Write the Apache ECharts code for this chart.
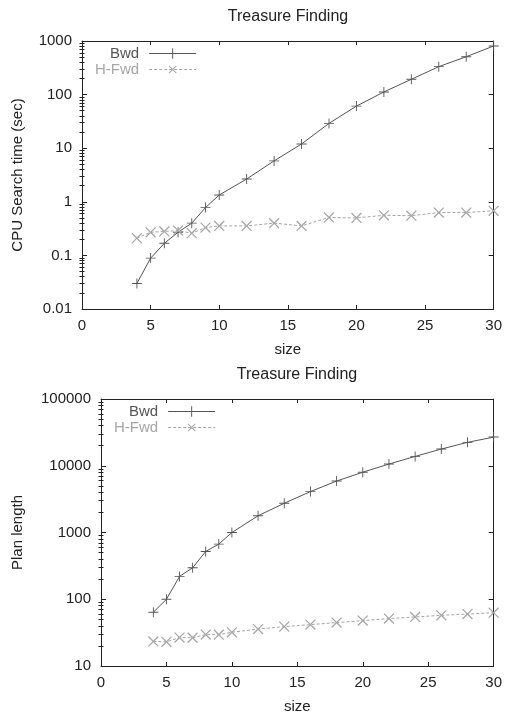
<!DOCTYPE html>
<html>
<head>
<meta charset="utf-8">
<script src="https://cdn.jsdelivr.net/npm/echarts@6/dist/echarts.min.js"></script>
<style>html,body{margin:0;padding:0;background:#fff;}#c{width:505px;height:715px;}</style>
</head>
<body>
<div id="c"></div>
<script>
// ---- data ----
const chartTitle = 'Treasure Finding';
const sizes = [4, 5, 6, 7, 8, 9, 10, 12, 14, 16, 18, 20, 22, 24, 26, 28, 30];
const cpuBwd = [0.03, 0.089, 0.168, 0.27, 0.40, 0.78, 1.34, 2.66, 5.8, 12, 29, 61, 112, 193, 332, 509, 807];
const cpuHFwd = [0.21, 0.27, 0.28, 0.29, 0.26, 0.33, 0.355, 0.355, 0.40, 0.355, 0.51, 0.50, 0.56, 0.55, 0.63, 0.63, 0.68];
const planBwd = [64, 100, 220, 296, 520, 670, 1000, 1780, 2740, 4100, 5900, 8000, 10600, 13800, 17800, 22400, 26900];
const planHFwd = [23.3, 23, 26.7, 26.5, 29.6, 29.5, 32, 35.8, 38.9, 41.7, 44.7, 47.9, 51.3, 54.3, 57.5, 60, 63];
const xTicks = [0, 5, 10, 15, 20, 25, 30];
const cpuRange = [0.01, 1000];
const planRange = [10, 100000];
const minorMultipliers = [2, 3, 4, 5, 6, 7, 8, 9];

// ---- style ----
const FONT = "'Liberation Sans', Arial, Helvetica, sans-serif";
const DARK = '#555555';
const LIGHT = '#a6a6a6';
const AXIS = '#222222';
const PLUS = 'path://M4.55,0H5.45V4.55H10V5.45H5.45V10H4.55V5.45H0V4.55H4.55Z';

function minorLogTicks(range) {
  const out = [];
  const lo = Math.round(Math.log10(range[0])), hi = Math.round(Math.log10(range[1]));
  for (let d = lo; d < hi; d++) minorMultipliers.forEach(m => out.push(d + Math.log10(m)));
  return out;
}
function pairs(xs, ys) { return xs.map((x, i) => [x, ys[i]]); }
function fmt(v) { return String(+(+v).toPrecision(6)); }

function xAxes(grid, name) {
  const base = {
    type: 'value', gridIndex: grid, min: xTicks[0], max: xTicks[xTicks.length - 1], interval: xTicks[1] - xTicks[0],
    splitLine: { show: false },
    axisLine: { show: true, onZero: false, lineStyle: { color: AXIS, width: 1 } },
    axisTick: { show: true, inside: true, length: 4, lineStyle: { color: AXIS } }
  };
  return [
    Object.assign({}, base, {
      position: 'bottom',
      axisLabel: { show: true, margin: 9, color: AXIS, fontSize: 15, fontFamily: FONT },
      name: name, nameLocation: 'middle', nameGap: 33,
      nameTextStyle: { color: AXIS, fontSize: 15, fontFamily: FONT }
    }),
    Object.assign({}, base, { position: 'top', axisLabel: { show: false } })
  ];
}
function yAxes(grid, range, name, nameGap) {
  const base = {
    type: 'log', logBase: 10, gridIndex: grid, min: range[0], max: range[1],
    splitLine: { show: false },
    axisLine: { show: true, onZero: false, lineStyle: { color: AXIS, width: 1 } },
    axisTick: { show: true, inside: true, length: 5, lineStyle: { color: AXIS } }
  };
  const lo = Math.log10(range[0]), hi = Math.log10(range[1]);
  const minorBase = {
    type: 'value', gridIndex: grid, min: lo, max: hi,
    splitLine: { show: false }, axisLine: { show: false }, axisLabel: { show: false },
    axisTick: { show: true, inside: true, length: 2.5, customValues: minorLogTicks(range), lineStyle: { color: AXIS } }
  };
  return [
    Object.assign({}, base, {
      position: 'left',
      axisLabel: { show: true, margin: 10, color: AXIS, fontSize: 15, fontFamily: FONT, formatter: fmt },
      name: name, nameLocation: 'middle', nameRotate: 90, nameGap: nameGap,
      nameTextStyle: { color: AXIS, fontSize: 15, fontFamily: FONT }
    }),
    Object.assign({}, base, { position: 'right', axisLabel: { show: false } }),
    Object.assign({}, minorBase, { position: 'left' }),
    Object.assign({}, minorBase, { position: 'right' })
  ];
}
function series(name, xi, yi, ys, light) {
  return {
    name: name, type: 'line', xAxisIndex: xi, yAxisIndex: yi,
    data: pairs(sizes, ys),
    symbol: PLUS, symbolSize: light ? 14 : 10, symbolRotate: light ? 45 : 0,
    showSymbol: true, animation: false,
    lineStyle: { color: light ? LIGHT : DARK, width: 1, type: light ? [3, 2] : 'solid' },
    itemStyle: { color: light ? LIGHT : DARK },
    emphasis: { disabled: true }
  };
}
function legend(left, top) {
  return {
    orient: 'vertical', align: 'right', left: left, top: top, padding: 0,
    itemGap: 1, itemWidth: 47, itemHeight: 13,
    lineStyle: { width: 1 },
    data: [
      { name: 'Bwd', textStyle: { color: DARK } },
      { name: 'H-Fwd', textStyle: { color: LIGHT } }
    ],
    formatter: n => '{t|' + n + '}',
    textStyle: { fontSize: 15, fontFamily: FONT, rich: { t: { width: 46, align: 'right', fontSize: 15, fontFamily: FONT, padding: [0, 5, 0, 0] } } },
    selectedMode: false
  };
}

const option = {
  backgroundColor: '#ffffff',
  animation: false,
  title: [
    { text: chartTitle, left: 288, top: 9, textAlign: 'center', padding: 0,
      textStyle: { color: AXIS, fontSize: 16, fontWeight: 'normal', fontFamily: FONT } },
    { text: chartTitle, left: 297, top: 367, textAlign: 'center', padding: 0,
      textStyle: { color: AXIS, fontSize: 16, fontWeight: 'normal', fontFamily: FONT } }
  ],
  legend: [legend(95, 46), legend(114, 404)],
  grid: [
    { left: 82, top: 41, width: 412, height: 268 },
    { left: 101, top: 399, width: 393, height: 268 }
  ],
  xAxis: [].concat(xAxes(0, 'size'), xAxes(1, 'size')),
  yAxis: [].concat(yAxes(0, cpuRange, 'CPU Search time (sec)', 57), yAxes(1, planRange, 'Plan length', 76)),
  series: [
    series('Bwd', 0, 0, cpuBwd, false),
    series('H-Fwd', 0, 0, cpuHFwd, true),
    series('Bwd', 2, 4, planBwd, false),
    series('H-Fwd', 2, 4, planHFwd, true)
  ]
};
const chart = echarts.init(document.getElementById('c'), null, { renderer: 'canvas' });
chart.setOption(option);
</script>
</body>
</html>
